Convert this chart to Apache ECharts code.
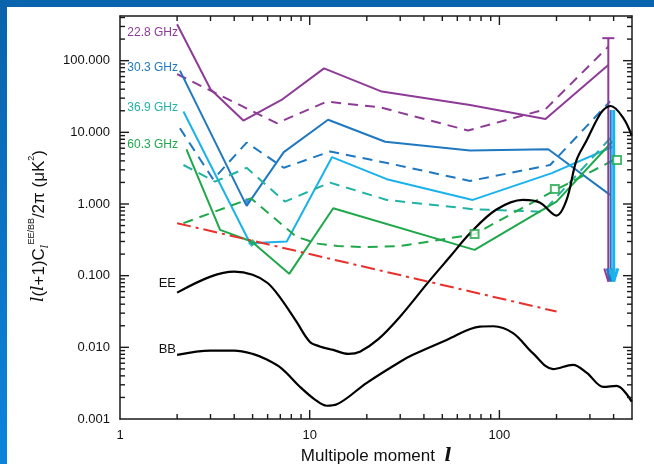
<!DOCTYPE html>
<html>
<head>
<meta charset="utf-8">
<script src="https://cdn.jsdelivr.net/npm/echarts@6/dist/echarts.min.js"></script>
<style>
  html, body { margin: 0; padding: 0; background: #fff; }
  #chart { width: 654px; height: 464px; }
</style>
</head>
<body>
<div id="chart"></div>
<script>
// foreground levels per frequency (solid / dashed)
const purpleL = [2.0, 3.0, 4.47, 7.1, 11.9, 24, 70, 175, 375];
const purpleSolid = [322, 40, 14.6, 28.3, 78, 37, 24, 15.4, 87];
const purpleDashL = [2.0, 6.7, 12.3, 23.4, 68.4, 175, 375];
const purpleDash = [65, 13.4, 26.8, 22.4, 10.6, 21, 157];

const blueL = [2.07, 4.65, 7.3, 12.5, 25, 70, 181, 383];
const blueSolid = [72.6, 0.94, 5.3, 15, 7.4, 5.56, 5.8, 1.34];
const blueDashL = [2.07, 3.1, 4.65, 7.3, 12.8, 26, 70, 185, 383];
const blueDash = [11.4, 2.2, 7.2, 3.2, 5.4, 3.7, 2.1, 3.5, 27];

const cyanL = [2.16, 4.85, 7.57, 13.1, 25.5, 72.3, 189, 395];
const cyanSolid = [19.5, 0.284, 0.30, 4.5, 2.22, 1.14, 2.7, 6.3];
const tealL = [2.16, 3.17, 4.65, 7.4, 12.8, 25.5, 72.8, 170, 395];
const tealDash = [3.5, 2.05, 3.2, 1.08, 1.99, 1.14, 0.845, 0.78, 9.0];

const greenL = [2.24, 3.37, 4.94, 7.8, 13.3, 74, 200, 395];
const greenSolid = [5.8, 0.435, 0.30, 0.106, 0.873, 0.229, 1.08, 7.5];
const greenDashL = [2.16, 4.9, 8.5, 11, 14, 20, 30, 43, 74, 200, 400];
const greenDash = [0.54, 1.2, 0.35, 0.28, 0.26, 0.25, 0.26, 0.30, 0.38, 1.6, 4.1];

// dust-like power law
const redL = [2, 200];
const redV = [0.54, 0.0316];

// theory spectra
const eeL = [2, 3, 4, 5, 6, 7, 8.5, 10, 11.3, 13.3, 16, 18.4, 23, 30, 42, 55, 70, 96, 133, 163, 200, 226, 255, 289, 326, 353, 386, 451, 498];
const eeV = [0.058, 0.097, 0.114, 0.103, 0.079, 0.049, 0.023, 0.012, 0.0103, 0.0092, 0.0081, 0.0087, 0.013, 0.027, 0.08, 0.185, 0.39, 0.83, 1.14, 1.05, 0.69, 1.14, 4.1, 7.8, 14.9, 20.5, 23.3, 15.7, 9];
const bbL = [2, 3, 4, 5, 5.9, 7.1, 8.9, 10.7, 12.3, 13.9, 20, 30, 35, 52.7, 79, 92.8, 118, 150, 192, 244, 289, 354, 414, 498];
const bbV = [0.00785, 0.009, 0.009, 0.0081, 0.0068, 0.0051, 0.0028, 0.00185, 0.00153, 0.0016, 0.0032, 0.0063, 0.00785, 0.0127, 0.0195, 0.0197, 0.0158, 0.0083, 0.00497, 0.0057, 0.0044, 0.0028, 0.0029, 0.00175];

// measured points
const squareL = [74, 196, 417];
const squareV = [0.38, 1.62, 4.1];
const diamondL = [4.65, 4.94, 5.0];
const diamondV = [1.08, 0.28, 0.29];

// upper limits: l, top, bottom
const limitL = [375, 386, 398, 403];
const limitTop = [206, 20.5, 20.5, 20.5];
const limitBottom = [0.083, 0.083, 0.083, 0.083];

const freqLabels = ['22.8 GHz', '30.3 GHz', '36.9 GHz', '60.3 GHz'];

// axis ticks
const majorX = [10, 100];
const majorY = [0.01, 0.1, 1, 10, 100];
const mult = [2, 3, 4, 5, 6, 7, 8, 9];
const minorX = [1, 10, 100].flatMap(d => mult.map(m => m * d)).filter(v => v < 500);
const minorY = [0.001, 0.01, 0.1, 1, 10, 100].flatMap(d => mult.map(m => m * d)).filter(v => v < 420);

const C_PURPLE = '#8e3b97';
const C_BLUE = '#1f78c0';
const C_CYAN = '#1ab2ec';
const C_TEAL = '#22b2a6';
const C_GREEN = '#1ea84b';
const C_RED = '#e8312b';
const FONT = '"Liberation Sans", Arial, sans-serif';

const zip = (a, b) => a.map((v, i) => [v, b[i]]);

function lineSeries(name, l, v, color, dashed) {
  return {
    name: name, type: 'line', data: zip(l, v),
    showSymbol: false, symbol: 'none', silent: true,
    lineStyle: { color: color, width: 2, type: dashed ? [10, 7] : 'solid' },
    z: 3
  };
}

// tick marks drawn inward on all four sides
function tickSeries(name, values, isX, len) {
  return {
    name: name, type: 'custom', silent: true, z: 10, clip: false,
    data: values.map(v => isX ? [v, 1] : [1, v]),
    renderItem: function (params, api) {
      const cs = params.coordSys;
      const st = { stroke: '#1a1a1a', lineWidth: 1.4 };
      if (isX) {
        const x = api.coord([api.value(0), 1])[0];
        return { type: 'group', children: [
          { type: 'line', shape: { x1: x, y1: cs.y + cs.height, x2: x, y2: cs.y + cs.height - len }, style: st },
          { type: 'line', shape: { x1: x, y1: cs.y, x2: x, y2: cs.y + len }, style: st }
        ] };
      }
      const y = api.coord([1, api.value(1)])[1];
      return { type: 'group', children: [
        { type: 'line', shape: { x1: cs.x, y1: y, x2: cs.x + len, y2: y }, style: st },
        { type: 'line', shape: { x1: cs.x + cs.width, y1: y, x2: cs.x + cs.width - len, y2: y }, style: st }
      ] };
    }
  };
}

const chart = echarts.init(document.getElementById('chart'));

const axisCommon = {
  type: 'log', logBase: 10,
  axisLine: { show: true, lineStyle: { color: '#1a1a1a', width: 1.5 } },
  axisTick: { show: false },
  splitLine: { show: false },
  minorTick: { show: false }
};

const yTitleRich = {
  t: { fontSize: 17, fontFamily: FONT, fill: '#111', lineHeight: 24, verticalAlign: 'middle' },
  i: { fontStyle: 'italic', fontSize: 17, fontFamily: '"DejaVu Serif", serif', fill: '#111', lineHeight: 24 },
  sub: { fontStyle: 'italic', fontSize: 11, fontFamily: '"DejaVu Serif", serif', fill: '#111', verticalAlign: 'bottom', lineHeight: 24 },
  sup: { fontSize: 9, fontFamily: FONT, fill: '#111', verticalAlign: 'top', lineHeight: 24 }
};

chart.setOption({
  animation: false,
  backgroundColor: '#fff',
  textStyle: { fontFamily: FONT },
  grid: { left: 120, right: 22, top: 16, bottom: 45, containLabel: false, outerBoundsMode: 'none' },
  graphic: [
    { type: 'rect', shape: { x: 0, y: 0, width: 654, height: 7 }, style: { fill: '#0a63ad' }, z: 100 },
    { type: 'rect', shape: { x: 0, y: 0, width: 7, height: 464 },
      style: { fill: new echarts.graphic.LinearGradient(0, 0, 0, 1, [
        { offset: 0, color: '#0a62ab' }, { offset: 1, color: '#0c84dc' }]) }, z: 100 },
    { type: 'text', x: 178, y: 33, style: { text: freqLabels[0], fill: C_PURPLE, font: '12px ' + FONT, align: 'right', verticalAlign: 'middle' } },
    { type: 'text', x: 178, y: 68, style: { text: freqLabels[1], fill: C_BLUE, font: '12px ' + FONT, align: 'right', verticalAlign: 'middle' } },
    { type: 'text', x: 178, y: 108, style: { text: freqLabels[2], fill: C_TEAL, font: '12px ' + FONT, align: 'right', verticalAlign: 'middle' } },
    { type: 'text', x: 178, y: 145, style: { text: freqLabels[3], fill: C_GREEN, font: '12px ' + FONT, align: 'right', verticalAlign: 'middle' } },
    { type: 'text', x: 176, y: 283, style: { text: 'EE', fill: '#111', font: '13px ' + FONT, align: 'right', verticalAlign: 'middle' } },
    { type: 'text', x: 176, y: 349, style: { text: 'BB', fill: '#111', font: '13px ' + FONT, align: 'right', verticalAlign: 'middle' } },
    { type: 'text', x: 39, y: 226, rotation: Math.PI / 2,
      style: { text: '{i|l}{t|(}{i|l}{t|+1)C}{sub|l}{sup|EE/BB}{t|/2π (μK}{sup|2}{t|)}',
        rich: yTitleRich, align: 'center', verticalAlign: 'middle' } }
  ],
  xAxis: [
    Object.assign({}, axisCommon, {
      position: 'bottom', min: 1, max: 500,
      axisLabel: { show: true, color: '#111', fontSize: 13, margin: 10, showMaxLabel: false },
      name: 'Multipole moment  {i|l}', nameLocation: 'middle', nameGap: 28,
      nameTextStyle: { color: '#111', fontSize: 17, fontFamily: FONT,
        rich: { i: { fontStyle: 'italic', fontSize: 18, fontWeight: 'bold', fontFamily: '"DejaVu Serif", serif' } } }
    }),
    Object.assign({}, axisCommon, {
      position: 'top', min: 1, max: 500, axisLabel: { show: false }
    })
  ],
  yAxis: [
    Object.assign({}, axisCommon, {
      position: 'left', min: 0.001, max: 420,
      axisLabel: { show: true, color: '#111', fontSize: 13, margin: 10, showMaxLabel: false,
        formatter: v => Number(v).toFixed(3) }
    }),
    Object.assign({}, axisCommon, {
      position: 'right', min: 0.001, max: 420, axisLabel: { show: false }
    })
  ],
  series: [
    lineSeries('22.8 GHz', purpleL, purpleSolid, C_PURPLE, false),
    lineSeries('22.8 GHz dashed', purpleDashL, purpleDash, C_PURPLE, true),
    lineSeries('30.3 GHz', blueL, blueSolid, C_BLUE, false),
    lineSeries('30.3 GHz dashed', blueDashL, blueDash, C_BLUE, true),
    lineSeries('36.9 GHz', cyanL, cyanSolid, C_CYAN, false),
    lineSeries('36.9 GHz dashed', tealL, tealDash, C_TEAL, true),
    lineSeries('60.3 GHz', greenL, greenSolid, C_GREEN, false),
    lineSeries('60.3 GHz dashed', greenDashL, greenDash, C_GREEN, true),
    {
      name: 'dust', type: 'line', data: zip(redL, redV), showSymbol: false, symbol: 'none',
      lineStyle: { color: C_RED, width: 2, type: [14, 5, 3, 5] }, z: 3
    },
    {
      name: 'EE', type: 'line', data: zip(eeL, eeV), showSymbol: false, symbol: 'none', smooth: 0.35,
      lineStyle: { color: '#000', width: 2.2 }, z: 5
    },
    {
      name: 'BB', type: 'line', data: zip(bbL, bbV), showSymbol: false, symbol: 'none', smooth: 0.35,
      lineStyle: { color: '#000', width: 2.2 }, z: 5
    },
    {
      name: 'limits', type: 'custom', z: 4,
      data: limitL.map((l, i) => [l, limitTop[i], limitBottom[i], i]),
      renderItem: function (params, api) {
        const colors = [C_PURPLE, C_BLUE, C_CYAN, C_CYAN];
        const idx = api.value(3);
        const c = colors[idx];
        const t = api.coord([api.value(0), api.value(1)]);
        const b = api.coord([api.value(0), api.value(2)]);
        const st = { stroke: c, lineWidth: 2 };
        const kids = [
          { type: 'line', shape: { x1: t[0], y1: t[1], x2: b[0], y2: b[1] }, style: st },
          { type: 'line', shape: { x1: b[0] - 4, y1: b[1] - 13, x2: b[0], y2: b[1] }, style: st },
          { type: 'line', shape: { x1: b[0] + 4, y1: b[1] - 13, x2: b[0], y2: b[1] }, style: st }
        ];
        if (idx === 0) {
          kids.push({ type: 'line', shape: { x1: t[0] - 6, y1: t[1], x2: t[0] + 6, y2: t[1] }, style: st });
        }
        return { type: 'group', children: kids };
      }
    },
    {
      name: 'squares', type: 'scatter', data: zip(squareL, squareV),
      symbol: 'emptyRect', symbolSize: 8,
      itemStyle: { color: C_GREEN, borderColor: C_GREEN, borderWidth: 2 }, z: 6
    },
    {
      name: 'diamonds', type: 'scatter', symbol: 'diamond', symbolSize: 7, z: 6,
      data: diamondL.map((l, i) => ({ value: [l, diamondV[i]], itemStyle: { color: [C_BLUE, C_CYAN, C_GREEN][i] } }))
    },
    tickSeries('major x', majorX, true, 9),
    tickSeries('major y', majorY, false, 9),
    tickSeries('minor x', minorX, true, 5),
    tickSeries('minor y', minorY, false, 5)
  ]
});
</script>
</body>
</html>
